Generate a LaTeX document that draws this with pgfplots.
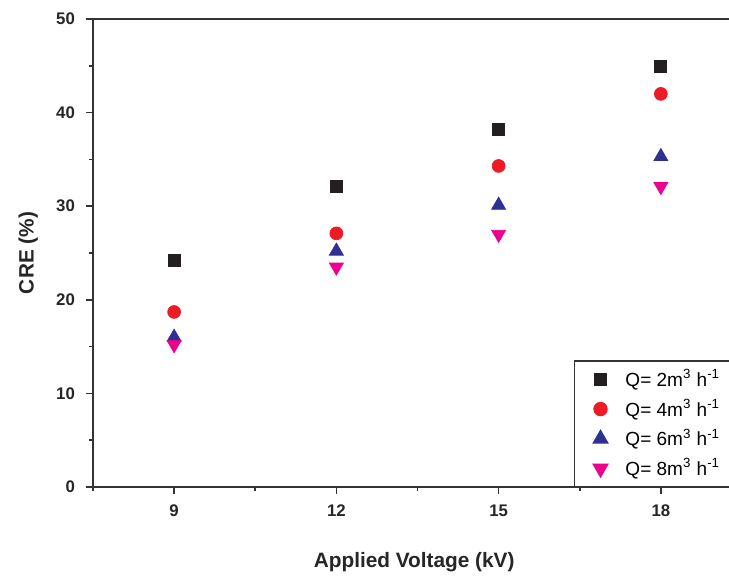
\documentclass[border=0pt]{standalone}
\usepackage{pgfplots}
\pgfplotsset{compat=1.18}
\usepackage{fontspec}
\setmainfont{Liberation Sans}
\definecolor{sqblack}{HTML}{231F20}
\definecolor{cred}{HTML}{ED1C24}
\definecolor{tblue}{HTML}{2E3192}
\definecolor{tmag}{HTML}{EC008C}
\begin{document}
\begin{tikzpicture}
\begin{axis}[
    scale only axis,
    width=318pt, height=234pt,
    xmin=7.5, xmax=19.26,
    ymin=0, ymax=50,
    axis x line=box,
    axis y line=left,
    axis line style={-, line width=1pt, black!80},
    xtick={9,12,15,18},
    minor xtick={7.5,10.5,13.5,16.5},
    ytick={0,10,20,30,40,50},
    minor ytick={5,15,25,35,45},
    xtick pos=bottom, ytick pos=left,
    tick align=outside,
    major tick length=3.5pt, minor tick length=2pt,
    every tick/.style={black!80, line width=0.8pt},
    /pgf/number format/assume math mode=true,
    ticklabel style={font=\fontsize{8.4}{10}\selectfont\bfseries, text=black!85},
    xticklabel style={yshift=-2pt},
    yticklabel style={xshift=-2pt},
    every axis y label/.style={at={(axis description cs:-0.102,0.5)}, rotate=90, anchor=center},
    every axis x label/.style={at={(axis description cs:0.505,-0.160)}, anchor=center},
    label style={font=\fontsize{10.4}{12}\selectfont\bfseries, text=black!85},
    xlabel={Applied Voltage (kV)},
    ylabel={CRE (\%)},
    legend style={at={(axis description cs:0.756,0.271)}, anchor=north west,
        draw=black!80, fill=white, line width=0.8pt, font=\fontsize{9.5}{11}\selectfont,
        row sep=0.9pt, column sep=7pt, inner xsep=9.5pt, inner ysep=2.2pt},
    legend cell align=left,
]
\addplot[only marks, mark=square*, mark size=3pt, color=sqblack]
    coordinates {(9,24.2)(12,32.1)(15,38.2)(18,44.9)};
\addplot[only marks, mark=*, mark size=3.2pt, color=cred]
    coordinates {(9,18.7)(12,27.1)(15,34.3)(18,42.0)};
\addplot[only marks, mark=triangle*, mark size=4pt, color=tblue]
    coordinates {(9,16.0)(12,25.2)(15,30.1)(18,35.3)};
\addplot[only marks, mark=triangle*, mark size=4pt, color=tmag, mark options={rotate=180}]
    coordinates {(9,15.2)(12,23.5)(15,27.0)(18,32.1)};
\legend{Q= 2m\textsuperscript{3}~h\textsuperscript{-1},
        Q= 4m\textsuperscript{3}~h\textsuperscript{-1},
        Q= 6m\textsuperscript{3}~h\textsuperscript{-1},
        Q= 8m\textsuperscript{3}~h\textsuperscript{-1}}
\coordinate (bl) at (rel axis cs:0,0);
\coordinate (tr) at (rel axis cs:1,1);
\end{axis}
\pgfresetboundingbox
\path[use as bounding box] ([xshift=-46.5pt,yshift=-47pt]bl) rectangle ([yshift=9.5pt]tr);
\end{tikzpicture}
\end{document}
